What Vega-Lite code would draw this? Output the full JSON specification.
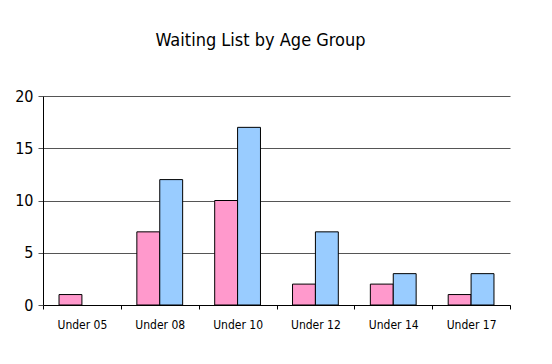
{
  "$schema": "https://vega.github.io/schema/vega-lite/v6.json",
  "autosize": {"type": "none"},
  "padding": {"left": 43, "top": 96, "right": 42, "bottom": 59},
  "width": 467,
  "height": 209,
  "background": "white",
  "title": {"text": "Waiting List by Age Group", "font": "DejaVu Sans Condensed, Liberation Sans, sans-serif", "fontSize": 18, "fontWeight": "normal", "color": "black", "offset": 38, "dx": -16},
  "data": {"values": [
    {"group": "Under 05", "series": "A", "count": 1},
    {"group": "Under 05", "series": "B", "count": 0},
    {"group": "Under 08", "series": "A", "count": 7},
    {"group": "Under 08", "series": "B", "count": 12},
    {"group": "Under 10", "series": "A", "count": 10},
    {"group": "Under 10", "series": "B", "count": 17},
    {"group": "Under 12", "series": "A", "count": 2},
    {"group": "Under 12", "series": "B", "count": 7},
    {"group": "Under 14", "series": "A", "count": 2},
    {"group": "Under 14", "series": "B", "count": 3},
    {"group": "Under 17", "series": "A", "count": 1},
    {"group": "Under 17", "series": "B", "count": 3}
  ]},
  "transform": [{"filter": "datum.count > 0"}],
  "mark": {"type": "bar", "stroke": "black", "strokeWidth": 1},
  "encoding": {
    "x": {"field": "group", "type": "nominal", "sort": null,
      "scale": {"paddingInner": 0, "paddingOuter": 0},
      "axis": {"title": null, "labelAngle": 0, "bandPosition": 0, "tickBand": "extent", "domainColor": "black", "tickColor": "black", "tickSize": 4, "labelPadding": 10, "labelFont": "DejaVu Sans Condensed, Liberation Sans, sans-serif", "labelFontSize": 12, "labelColor": "black", "grid": false}},
    "xOffset": {"field": "series", "type": "nominal", "scale": {"domain": ["A", "B"], "paddingInner": 0, "paddingOuter": 0.7}},
    "y": {"field": "count", "type": "quantitative",
      "scale": {"domain": [0, 20]},
      "axis": {"title": null, "values": [0, 5, 10, 15, 20], "domainColor": "black", "tickColor": "#555", "tickSize": 5, "labelPadding": 5, "labelFont": "DejaVu Sans Condensed, Liberation Sans, sans-serif", "labelFontSize": 16, "labelColor": "black", "grid": true, "gridColor": "#555", "gridOpacity": 1}},
    "color": {"field": "series", "type": "nominal", "legend": null,
      "scale": {"domain": ["A", "B"], "range": ["#FF99CC", "#99CCFF"]}}
  },
  "config": {"view": {"stroke": null}, "bar": {"fillOpacity": 1}}
}
